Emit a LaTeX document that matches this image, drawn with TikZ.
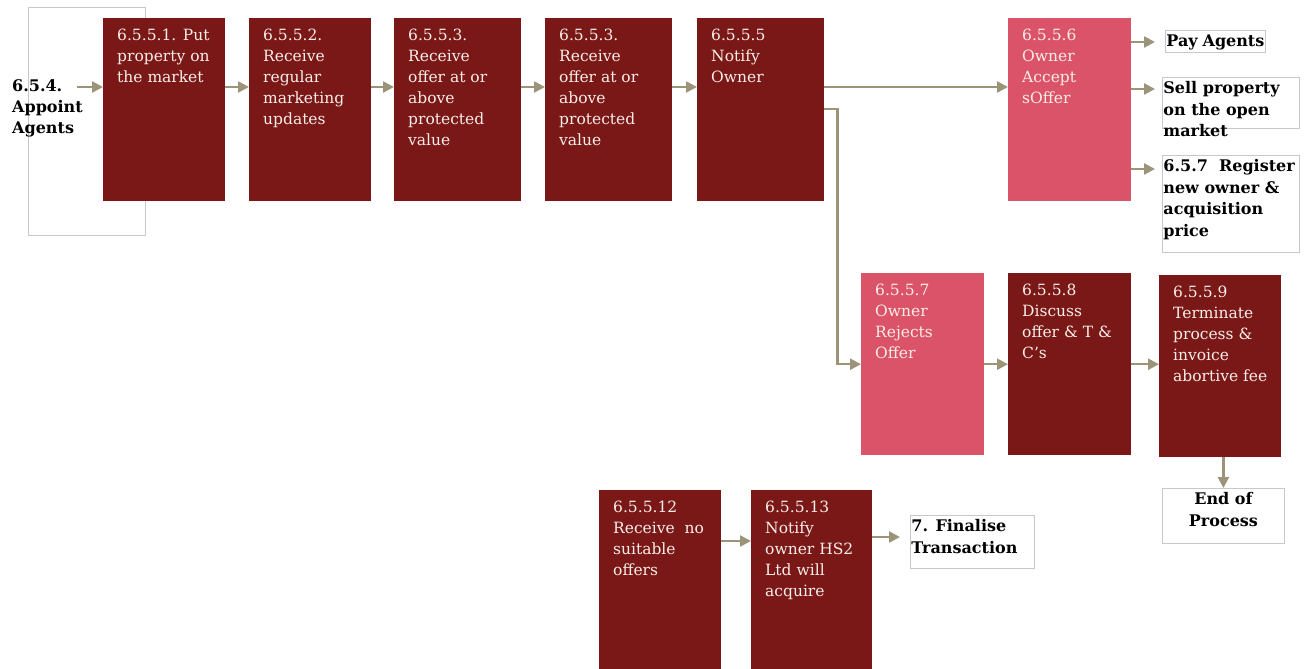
\documentclass[tikz,border=0pt]{standalone}
\usepackage{fontspec}
\setmainfont{DejaVu Serif}
\usetikzlibrary{arrows.meta}

\definecolor{stepred}{RGB}{122,23,23}
\definecolor{steppink}{RGB}{219,83,105}
\definecolor{flowline}{RGB}{155,148,120}
\definecolor{stepink}{RGB}{248,238,232}
\definecolor{outline}{RGB}{200,200,200}

% top-aligned text block of fixed height and width
\newcommand\boxtext[3]{\parbox[c][#1][t]{#2}{\raggedright #3}}

\tikzset{
  stepbox/.style={anchor=north west, fill=stepred, text=stepink,
    inner xsep=14pt, inner ysep=11pt, font=\fontsize{15.5}{21}\selectfont},
  pinkbox/.style={stepbox, fill=steppink},
  outbox/.style={anchor=north west, draw=outline, line width=0.8pt, fill=white,
    text=black, inner xsep=1pt, inner ysep=4pt,
    font=\bfseries\fontsize{16}{21.5}\selectfont},
  flow/.style={draw=flowline, line width=2.4pt, -{Triangle[length=11pt,width=11pt]}},
}

\begin{document}
\begin{tikzpicture}[x=1pt,y=-1pt]
\useasboundingbox (0,0) rectangle (1310,669);

% arrow rows
\coordinate (rowA) at (0,87);
\coordinate (rowB) at (0,109);
\coordinate (rowPay) at (0,42);
\coordinate (rowSell) at (0,89);
\coordinate (rowReg) at (0,169);
\coordinate (rowC) at (0,541);
\coordinate (rowD) at (0,537);

% appoint agents
\node[draw=outline, line width=0.8pt, anchor=north west, minimum width=117pt,
      minimum height=228pt, inner sep=0pt] (appbox) at (28,7) {};
\node[anchor=north west, inner sep=0pt, align=left,
      font=\bfseries\fontsize{16}{21}\selectfont] (appt) at (12,79)
      {6.5.4.\\Appoint\\Agents};
\coordinate (appout) at (77,87);

% top row
\node[stepbox] (b1) at (103,18) {\boxtext{161pt}{94pt}{6.5.5.1. Put\\property on\\the market}};
\node[stepbox] (b2) at (249,18) {\boxtext{161pt}{94pt}{6.5.5.2.\\Receive\\regular\\marketing\\updates}};
\node[stepbox] (b3) at (394,18) {\boxtext{161pt}{99pt}{6.5.5.3.\\Receive\\offer at or\\above\\protected\\value}};
\node[stepbox] (b4) at (545,18) {\boxtext{161pt}{99pt}{6.5.5.3.\\Receive\\offer at or\\above\\protected\\value}};
\node[stepbox] (b5) at (697,18) {\boxtext{161pt}{99pt}{6.5.5.5\\Notify\\Owner}};
\node[pinkbox] (b6) at (1008,18) {\boxtext{161pt}{95pt}{6.5.5.6\\Owner\\Accept\\sOffer}};

% outcomes of acceptance
\node[outbox] (pay) at (1165,30) {\boxtext{14pt}{98pt}{Pay Agents}};
\node[outbox] (sell) at (1162,77) {\boxtext{43pt}{135pt}{Sell property\\on the open\\market}};
\node[outbox] (reg) at (1162,155) {\boxtext{89pt}{135pt}{6.5.7~ Register\\new owner \&\\acquisition\\price}};

% rejection branch
\node[pinkbox] (b7) at (861,273) {\boxtext{160pt}{95pt}{6.5.5.7\\Owner\\Rejects\\Offer}};
\node[stepbox] (b8) at (1008,273) {\boxtext{160pt}{95pt}{6.5.5.8\\Discuss\\offer \& T \&\\C’s}};
\node[stepbox] (b9) at (1159,275) {\boxtext{160pt}{94pt}{6.5.5.9\\Terminate\\process \&\\invoice\\abortive fee}};
\node[outbox, inner xsep=0pt] (endp) at (1162,488) {\parbox[c][47pt][t]{122pt}{\centering End of\\Process}};

% no offers branch
\node[stepbox] (b12) at (599,490) {\boxtext{161pt}{94pt}{6.5.5.12\\Receive~ no\\suitable\\offers}};
\node[stepbox] (b13) at (751,490) {\boxtext{161pt}{93pt}{6.5.5.13\\Notify\\owner HS2\\Ltd will\\acquire}};
\node[outbox] (fin) at (910,515) {\boxtext{45pt}{122pt}{7. Finalise\\Transaction}};

% connectors
\draw[flow] (appout) -- (b1.west |- appout);
\draw[flow] (b1.east |- rowA) -- (b2.west |- rowA);
\draw[flow] (b2.east |- rowA) -- (b3.west |- rowA);
\draw[flow] (b3.east |- rowA) -- (b4.west |- rowA);
\draw[flow] (b4.east |- rowA) -- (b5.west |- rowA);
\draw[flow] (b5.east |- rowA) -- (b6.west |- rowA);
\draw[flow] (b5.east |- rowB) -- ++(13,0) |- (b7.west);

\draw[flow, shorten >=10pt] (b6.east |- rowPay) -- (pay.west |- rowPay);
\draw[flow, shorten >=7pt] (b6.east |- rowSell) -- (sell.west |- rowSell);
\draw[flow, shorten >=7pt] (b6.east |- rowReg) -- (reg.west |- rowReg);

\draw[flow] (b7.east) -- (b8.west);
\draw[flow] (b8.east) -- (b9.west |- b8.east);
\draw[flow] (b9.south -| endp.north) -- (endp.north);

\draw[flow] (b12.east |- rowC) -- (b13.west |- rowC);
\draw[flow, shorten >=10pt] (b13.east |- rowD) -- (fin.west |- rowD);
\end{tikzpicture}
\end{document}
